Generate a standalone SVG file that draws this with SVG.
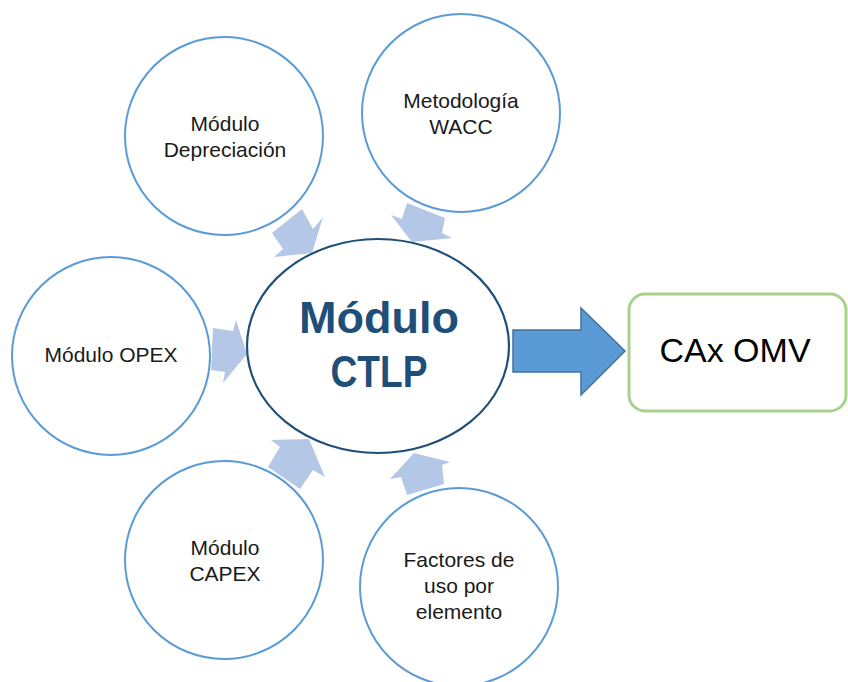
<svg xmlns="http://www.w3.org/2000/svg" width="848" height="682" viewBox="0 0 848 682">
<style>
.sat{fill:#ffffff;stroke:#5B9BD5;stroke-width:2}
.lbl{font-family:"Liberation Sans",Arial,sans-serif;font-size:21px;fill:#1a1a1a;text-anchor:middle}
.small{fill:#B4C7E7;stroke:none}
.main{fill:#ffffff;stroke:#1F4E79;stroke-width:2.2}
.title{font-family:"Liberation Sans",Arial,sans-serif;font-weight:bold;font-size:45px;fill:#1F4E79;text-anchor:middle}
</style>
<rect width="848" height="682" fill="#ffffff"/>
<g id="n-depreciacion">
<circle class="sat" cx="224" cy="136" r="99"/>
<text class="lbl" x="225" y="131">Módulo</text>
<text class="lbl" x="225" y="157">Depreciación</text>
</g>
<g id="n-wacc">
<circle class="sat" cx="461" cy="113" r="99"/>
<text class="lbl" x="461" y="108">Metodología</text>
<text class="lbl" x="461" y="134">WACC</text>
</g>
<g id="n-opex">
<circle class="sat" cx="111" cy="356" r="99"/>
<text class="lbl" x="111" y="362">Módulo OPEX</text>
</g>
<g id="n-capex">
<circle class="sat" cx="224" cy="560" r="99"/>
<text class="lbl" x="225" y="555">Módulo</text>
<text class="lbl" x="225" y="581">CAPEX</text>
</g>
<g id="n-factores">
<circle class="sat" cx="459" cy="587" r="99"/>
<text class="lbl" x="459" y="567">Factores de</text>
<text class="lbl" x="459" y="593">uso por</text>
<text class="lbl" x="459" y="619">elemento</text>
</g>
<g id="connectors">
<polygon class="small" points="302,209 313,229 323,217 312,253 274,257 283,249 272,233"/>
<polygon class="small" points="407,203 445,218 442,233 452,238 412,242 391,215 402,219"/>
<polygon class="small" points="213,328 233,331 236,320 247,354 223,383 225,372 211,370"/>
<polygon class="small" points="271,440 309,439 325,477 313,470 300,489 268,467 280,447"/>
<polygon class="small" points="414,453 450,462 442,465 444,484 407,495 401,477 390,479"/>
<polygon points="513,330 581,330 581,308 625,351 581,395 581,372 513,372" fill="#5B9BD5" stroke="#41719C" stroke-width="1.5"/>
</g>
<g id="n-ctlp">
<ellipse class="main" cx="378" cy="346" rx="131" ry="107"/>
<text class="title" x="379" y="333">Módulo</text>
<text class="title" x="379" y="387" textLength="97" lengthAdjust="spacingAndGlyphs">CTLP</text>
</g>
<g id="n-cax">
<rect x="629" y="294" width="217" height="117" rx="16" fill="#ffffff" stroke="#A9D18E" stroke-width="3"/>
<text x="735" y="362" font-family="'Liberation Sans',Arial,sans-serif" font-size="34" fill="#000000" text-anchor="middle">CAx OMV</text>
</g>
</svg>
